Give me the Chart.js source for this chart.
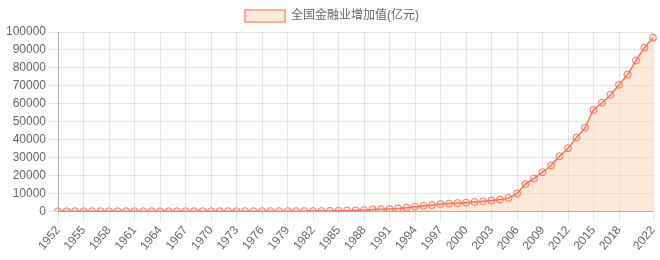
<!DOCTYPE html>
<html>
<head>
<meta charset="utf-8">
<script src="https://cdn.jsdelivr.net/npm/chart.js@4/dist/chart.umd.min.js"></script>
<style>
  html, body { margin: 0; padding: 0; background: #fff; }
  #wrap { width: 660px; height: 260px; }
</style>
</head>
<body>
<div id="wrap"><canvas id="financeChart"></canvas></div>
<script>
// --- Data ---
const years = [
    '1952', '1953', '1954', '1955', '1956', '1957', '1958', '1959', '1960', '1961',
    '1962', '1963', '1964', '1965', '1966', '1967', '1968', '1969', '1970', '1971',
    '1972', '1973', '1974', '1975', '1976', '1977', '1978', '1979', '1980', '1981',
    '1982', '1983', '1984', '1985', '1986', '1987', '1988', '1989', '1990', '1991',
    '1992', '1993', '1994', '1995', '1996', '1997', '1998', '1999', '2000', '2001',
    '2002', '2003', '2004', '2005', '2006', '2007', '2008', '2009', '2010', '2011',
    '2012', '2013', '2014', '2015', '2016', '2017', '2018', '2019', '2020', '2021',
    '2022'
];

// 全国金融业增加值 (亿元)
const financeValues = [
    7, 9, 11, 12, 14, 16, 19, 23, 26, 22,
    22, 21, 21, 22, 24, 23, 23, 26, 30, 34,
    38, 42, 46, 50, 54, 61, 77, 80, 86, 91,
    118, 156, 204, 294, 419, 512, 658, 1061, 1140, 1240,
    1580, 2010, 2570, 3030, 3500, 4010, 4330, 4590, 4840, 5200,
    5560, 6030, 6590, 7470, 9950, 15170, 18310, 21800, 25680, 30680,
    35190, 41190, 46670, 56500, 60500, 65000, 70610, 76250, 84070, 91210,
    96810
];

// labels shown under the x axis (gridlines only at these)
const tickYears = [
    '1952', '1955', '1958', '1961', '1964', '1967', '1970', '1973', '1976', '1979',
    '1982', '1985', '1988', '1991', '1994', '1997', '2000', '2003', '2006', '2009',
    '2012', '2015', '2018', '2022'
];

const yMax = 100000;
const yStep = 10000;

// --- Chart ---
Chart.defaults.font.family = "'Liberation Sans', Arial, 'Noto Sans CJK SC', sans-serif";
Chart.defaults.font.size = 12;
Chart.defaults.color = '#666';

const lineColor = '#ff7355';
const fillColor = 'rgba(251, 214, 184, 0.5)';

new Chart(document.getElementById('financeChart'), {
    type: 'line',
    data: {
        labels: years,
        datasets: [{
            label: '全国金融业增加值(亿元)',
            data: financeValues,
            borderColor: lineColor,
            backgroundColor: fillColor,
            borderWidth: 1.5,
            fill: 'origin',
            tension: 0.3,
            pointRadius: 3.5,
            pointBorderWidth: 1,
            pointBorderColor: lineColor,
            pointBackgroundColor: 'rgba(255, 115, 85, 0.12)'
        }]
    },
    options: {
        responsive: true,
        maintainAspectRatio: false,
        animation: false,
        layout: { padding: { left: 4, right: 0, top: 0, bottom: 5 } },
        plugins: {
            legend: {
                position: 'top',
                labels: {
                    boxWidth: 40,
                    boxHeight: 12,
                    padding: 10,
                    color: '#666',
                    generateLabels(chart) {
                        const items = Chart.defaults.plugins.legend.labels.generateLabels(chart);
                        items.forEach(it => { it.strokeStyle = '#fbae97'; it.lineWidth = 2; });
                        return items;
                    }
                }
            },
            tooltip: { enabled: false }
        },
        scales: {
            x: {
                offset: false,
                afterBuildTicks(scale) {
                    scale.ticks = scale.ticks.filter(t => tickYears.includes(years[t.value]));
                },
                afterFit(scale) {
                    scale.paddingRight = 7;
                },
                ticks: {
                    autoSkip: false,
                    minRotation: 50,
                    maxRotation: 50,
                    color: '#666',
                    padding: 2
                },
                grid: { color: 'rgba(0,0,0,0.1)', tickLength: 10 },
                border: { color: 'rgba(0,0,0,0.25)' }
            },
            y: {
                min: 0,
                max: yMax,
                ticks: {
                    stepSize: yStep,
                    color: '#666',
                    padding: 2,
                    callback: v => String(v)
                },
                grid: { color: 'rgba(0,0,0,0.1)', tickLength: 10 },
                border: { color: 'rgba(0,0,0,0.25)' }
            }
        }
    }
});
</script>
</body>
</html>
